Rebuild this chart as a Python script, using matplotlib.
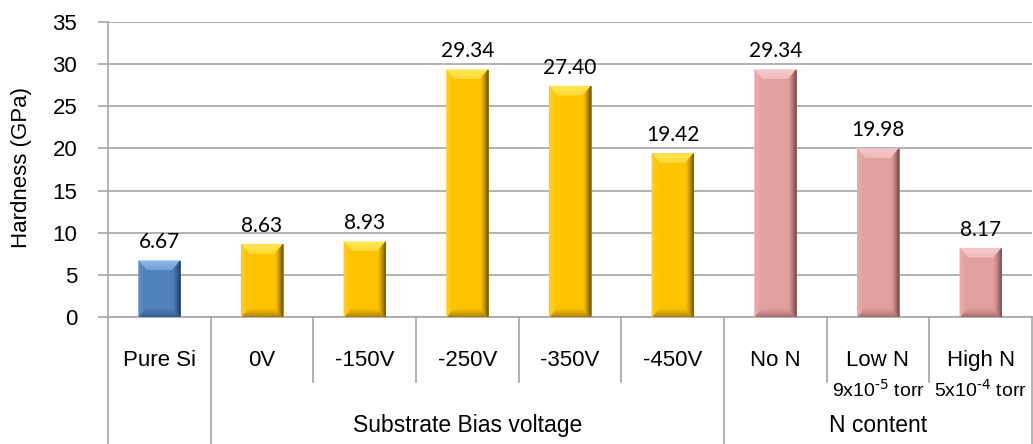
import matplotlib
matplotlib.use('Agg')
import matplotlib.pyplot as plt
import numpy as np
from matplotlib.patches import Polygon
from matplotlib.colors import to_rgb

plt.rcParams['font.family'] = ['Liberation Sans', 'DejaVu Sans']
plt.rcParams['mathtext.default'] = 'regular'

# data
categories = ['Pure Si', '0V', '-150V', '-250V', '-350V', '-450V', 'No N', 'Low N', 'High N']
hardness = [6.67, 8.63, 8.93, 29.34, 27.40, 19.42, 29.34, 19.98, 8.17]
sub_labels = ['', '', '', '', '', '', '', r'9x10$^{\text{-5}}$ torr', r'5x10$^{\text{-4}}$ torr']
bar_kind = ['si', 'bias', 'bias', 'bias', 'bias', 'bias', 'n', 'n', 'n']
group_names = ['Substrate Bias voltage', 'N content']
group_spans = [(1, 5), (6, 8)]
yticks = [0, 5, 10, 15, 20, 25, 30, 35]

palette = {
    'si':   dict(face='#4F81BD', top='#8FB7EA', left='#6690C8', right='#1F3A5C', bottom='#2E5583', edge='#3A6494'),
    'bias': dict(face='#FFC400', top='#FFE85A', left='#FFD22A', right='#5E4600', bottom='#9C7400', edge='#A88400'),
    'n':    dict(face='#E39E9E', top='#F6CDCD', left='#ECB2B2', right='#6E4040', bottom='#9E6767', edge='#A06A6A'),
}

grid_col = '#A6A6A6'


def mix(c1, c2, t):
    return tuple((1 - t) * a + t * b for a, b in zip(to_rgb(c1), to_rgb(c2)))


def add_bevel(ax, rect, pal, bx, by, steps=7):
    x0, y0 = rect.get_x(), rect.get_y()
    x1, y1 = x0 + rect.get_width(), y0 + rect.get_height()
    for i in range(steps):
        a, b = i / steps, (i + 1) / steps
        ox0, ox1, oy0, oy1 = x0 + a * bx, x1 - a * bx, y0 + a * by, y1 - a * by
        ix0, ix1, iy0, iy1 = x0 + b * bx, x1 - b * bx, y0 + b * by, y1 - b * by
        t = (a + b) / 2
        sides = {
            'bottom': [(ox0, oy0), (ox1, oy0), (ix1, iy0), (ix0, iy0)],
            'top': [(ox0, oy1), (ox1, oy1), (ix1, iy1), (ix0, iy1)],
            'left': [(ox0, oy0), (ox0, oy1), (ix0, iy1), (ix0, iy0)],
            'right': [(ox1, oy0), (ox1, oy1), (ix1, iy1), (ix1, iy0)],
        }
        for side, pts in sides.items():
            if side == 'top':
                col = mix(pal['top'], pal['face'], t * 0.35)
            else:
                col = mix(pal[side], pal['face'], t ** 0.8)
            ax.add_patch(Polygon(pts, closed=True, facecolor=col, edgecolor=col,
                                 lw=0.4, zorder=3))


W, H = 1033, 444
fig = plt.figure(figsize=(W / 100, H / 100), dpi=100)
ax = fig.add_axes([108 / W, 1 - 317 / H, (1032 - 108) / W, (317 - 22) / H])

x = np.arange(len(categories))
bars = ax.bar(x, hardness, width=0.405, color=[palette[k]['face'] for k in bar_kind],
              edgecolor=[palette[k]['edge'] for k in bar_kind], linewidth=0.6, zorder=2)

ax.set_xlim(-0.5, len(categories) - 0.5)
ax.set_ylim(0, 35)
ax.set_yticks(yticks)

# bevel size ~8 px
px_x = ax.bbox.width / len(categories)
px_y = ax.bbox.height / 35
for rect, k in zip(bars, bar_kind):
    add_bevel(ax, rect, palette[k], 7.5 / px_x, 9.0 / px_y)

for xi, v in zip(x, hardness):
    ax.annotate(f'{v:.2f}', (xi, v), xytext=(0, 9), textcoords='offset points',
                ha='center', va='baseline', fontsize=15, family=['Lato', 'DejaVu Sans'],
                color='black')

# axes styling
ax.grid(axis='y', color=grid_col, linewidth=1.2)
ax.set_axisbelow(True)
for s in ['top', 'right']:
    ax.spines[s].set_visible(False)
for s in ['left', 'bottom']:
    ax.spines[s].set_color(grid_col)
    ax.spines[s].set_linewidth(1.2)
ax.tick_params(axis='y', length=7.2, width=1.2, color=grid_col, pad=15, labelsize=16)
ax.set_xticks([])

fig.text(22 / W, 1 - 167 / H, 'Hardness (GPa)', rotation=90, ha='center', va='center',
         fontsize=16)

# multi-level category axis
trans = ax.get_xaxis_transform()
ah = ax.bbox.height
y_short = -(382 - 317) / ah
y_long = -(450 - 317) / ah
long_seps = {-0.5, 0.5, 5.5, len(categories) - 0.5}
for sep in np.arange(-0.5, len(categories), 1.0):
    yb = y_long if sep in long_seps else y_short
    ax.plot([sep, sep], [0, yb], transform=trans, color=grid_col, lw=1.2, clip_on=False)

for xi, lab, sub in zip(x, categories, sub_labels):
    ax.text(xi, -(360 - 317) / ah, lab, transform=trans, ha='center', va='center', fontsize=16)
    if sub:
        ax.text(xi, -(390 - 317) / ah, sub, transform=trans, ha='center', va='center', fontsize=14)

for name, (i0, i1) in zip(group_names, group_spans):
    ax.text((i0 + i1) / 2, -(425 - 317) / ah, name, transform=trans, ha='center', va='center',
            fontsize=16.5)

fig.savefig('out.png', dpi=100)
